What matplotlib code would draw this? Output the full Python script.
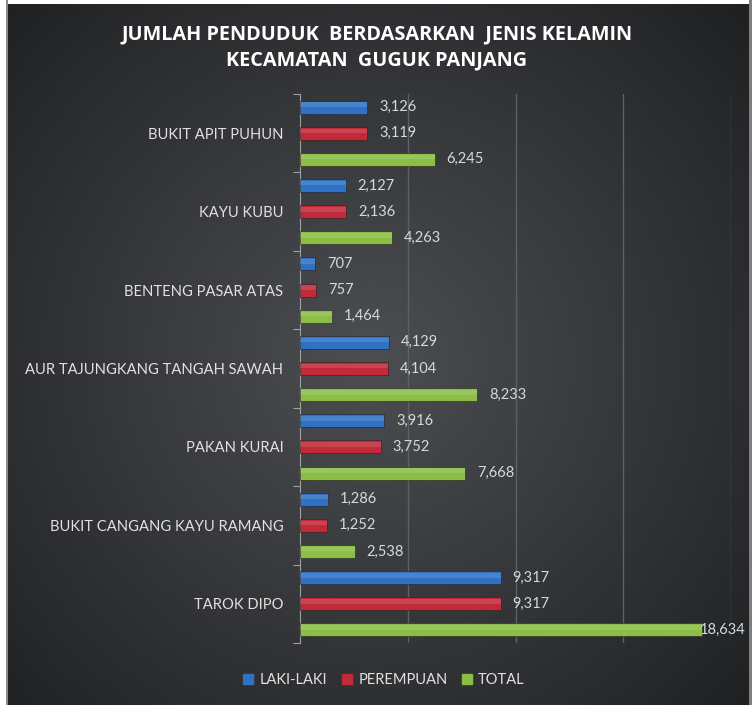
import numpy as np
import matplotlib.pyplot as plt
from matplotlib.lines import Line2D

plt.rcParams['font.family'] = ['Lato', 'DejaVu Sans']

kelurahan = ['BUKIT APIT PUHUN', 'KAYU KUBU', 'BENTENG PASAR ATAS',
             'AUR TAJUNGKANG TANGAH SAWAH', 'PAKAN KURAI',
             'BUKIT CANGANG KAYU RAMANG', 'TAROK DIPO']
laki = [3126, 2127, 707, 4129, 3916, 1286, 9317]
perempuan = [3119, 2136, 757, 4104, 3752, 1252, 9317]
total = [6245, 4263, 1464, 8233, 7668, 2538, 18634]

series = [('LAKI-LAKI', laki, '#2f72c4'),
          ('PEREMPUAN', perempuan, '#c22a39'),
          ('TOTAL', total, '#8bbd47')]

W, H = 752, 705
fig = plt.figure(figsize=(W / 100, H / 100), dpi=100)

# --- background: radial grey gradient ---
bg = fig.add_axes([0, 0, 1, 1])
yy, xx = np.mgrid[0:H, 0:W]
r = np.sqrt((xx - 370) ** 2 + (yy - 360) ** 2) / 520
r = np.clip(r, 0, 1)
c0 = np.array([76, 78, 81]) / 255
c1 = np.array([30, 32, 34]) / 255
img = c0[None, None, :] * (1 - r[..., None]) + c1[None, None, :] * r[..., None]
img[:, :6] = 1.0
img[:4, :] = 1.0
img[:, 6:8] = 0.55
img[:, W - 3:] = 0.5
bg.imshow(img, extent=[0, W, H, 0], aspect='auto')
bg.set_xlim(0, W)
bg.set_ylim(H, 0)
bg.axis('off')

# --- plot area ---
ax = fig.add_axes([300 / W, 1 - 643 / H, 431 / W, (643 - 94) / H])
ax.patch.set_alpha(0)
ax.set_xlim(0, 20000)
ax.set_ylim(len(kelurahan), 0)

h = 0.166
for k, (name, vals, col) in enumerate(series):
    ys = np.arange(len(kelurahan)) + (k + 0.5) / 3
    ax.barh(ys, vals, height=h, color=col, edgecolor='#222222', linewidth=0.4, zorder=3)
    # highlight strip for a glossy look
    ax.barh(ys - h * 0.18, vals, height=h * 0.35, color='white', alpha=0.12,
            linewidth=0, zorder=4)
    for y, v in zip(ys, vals):
        off = 8.5 if v < 17000 else -1.5
        ax.annotate('{:,}'.format(v), (v, y), xytext=(off, 0), textcoords='offset points',
                    ha='left', va='center', fontsize=10.5, color='#d4d9e2', zorder=5)

ax.set_xticks([5000, 10000, 15000, 20000])
ax.xaxis.grid(True, color='#5e6063', linewidth=1, zorder=0)
ax.tick_params(axis='x', length=0, labelbottom=False)

ax.set_yticks(np.arange(len(kelurahan) + 1))
ax.set_yticklabels([])
ax.tick_params(axis='y', which='major', length=5, color='#a0a0a0', direction='out')
ax.set_yticks(np.arange(len(kelurahan)) + 0.5, minor=True)
ax.set_yticklabels(kelurahan, minor=True)
ax.tick_params(axis='y', which='minor', length=0, pad=12, labelsize=10.6, labelcolor='#e2e2e2')

for s in ['top', 'right', 'bottom']:
    ax.spines[s].set_visible(False)
ax.spines['left'].set_color('#a0a0a0')

title_font = dict(ha='center', va='center', fontsize=14.3, fontweight='bold', color='white',
                  family=['Open Sans', 'DejaVu Sans'])
fig.text(377 / W, 1 - 34 / H, 'JUMLAH PENDUDUK  BERDASARKAN  JENIS KELAMIN', **title_font)
fig.text(377 / W, 1 - 60 / H, 'KECAMATAN  GUGUK PANJANG', **title_font)

handles = [Line2D([], [], marker='s', linestyle='', markersize=6.5, color=c) for _, _, c in series]
leg = fig.legend(handles, [n for n, _, _ in series], loc='center', ncol=3,
                 bbox_to_anchor=(383 / W, 1 - 680 / H), frameon=False, fontsize=10.5,
                 handletextpad=0.3, columnspacing=0.8, handlelength=1.0)
for t in leg.get_texts():
    t.set_color('#e2e2e2')

fig.savefig('out.png', dpi=100)
